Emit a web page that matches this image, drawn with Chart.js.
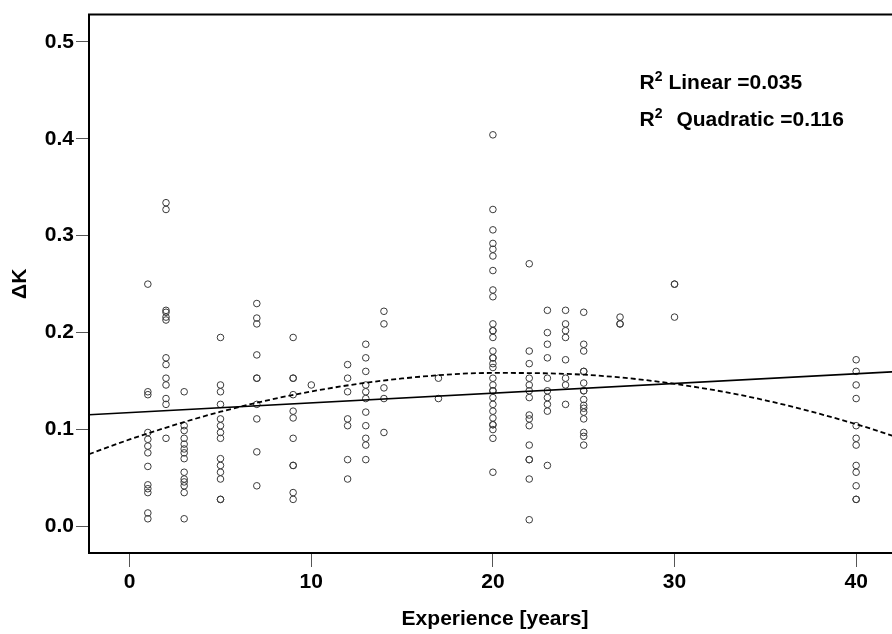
<!DOCTYPE html>
<html>
<head>
<meta charset="utf-8">
<script src="https://cdn.jsdelivr.net/npm/chart.js"></script>
<style>
  html, body { margin: 0; padding: 0; background: #fff; overflow: hidden; }
  #wrap { width: 906px; height: 634px; }
</style>
</head>
<body>
<div id="wrap"><canvas id="chart" width="906" height="634"></canvas></div>
<script>
// experience years that have measurements
const years = [1, 2, 3, 5, 7, 9, 10, 12, 13, 14, 17, 20, 22, 23, 24, 25, 27, 30, 40]

// delta K values for each year (same order as years)
const k01 = [0.250, 0.139, 0.136, 0.097, 0.090, 0.083, 0.076, 0.062, 0.043, 0.039, 0.035, 0.014, 0.008]
const k02 = [0.334, 0.327, 0.223, 0.221, 0.216, 0.213, 0.174, 0.167, 0.153, 0.146, 0.132, 0.126, 0.091]
const k03 = [0.139, 0.104, 0.099, 0.091, 0.085, 0.080, 0.076, 0.070, 0.056, 0.049, 0.046, 0.042, 0.035, 0.008]
const k05 = [0.195, 0.146, 0.139, 0.126, 0.111, 0.104, 0.097, 0.091, 0.070, 0.063, 0.056, 0.049, 0.028, 0.028]
const k07 = [0.230, 0.215, 0.209, 0.177, 0.153, 0.153, 0.126, 0.111, 0.077, 0.042]
const k09 = [0.195, 0.153, 0.153, 0.136, 0.119, 0.112, 0.091, 0.063, 0.063, 0.035, 0.028]
const k10 = [0.146]
const k12 = [0.167, 0.153, 0.139, 0.111, 0.104, 0.069, 0.049]
const k13 = [0.188, 0.174, 0.160, 0.146, 0.139, 0.132, 0.118, 0.104, 0.091, 0.084, 0.069]
const k14 = [0.222, 0.209, 0.143, 0.132, 0.097]
const k17 = [0.153, 0.132]
const k20 = [0.404, 0.327, 0.306, 0.292, 0.286, 0.279, 0.264, 0.244, 0.237, 0.209, 0.202, 0.202, 0.195, 0.181, 0.174, 0.174,
             0.168, 0.164, 0.153, 0.146, 0.140, 0.140, 0.133, 0.126, 0.119, 0.112, 0.105, 0.105, 0.100, 0.091, 0.056]
const k22 = [0.271, 0.181, 0.168, 0.153, 0.146, 0.140, 0.133, 0.115, 0.111, 0.104, 0.084, 0.069, 0.069, 0.049, 0.007]
const k23 = [0.223, 0.200, 0.188, 0.174, 0.153, 0.140, 0.133, 0.126, 0.119, 0.063]
const k24 = [0.223, 0.209, 0.202, 0.195, 0.172, 0.153, 0.146, 0.126]
const k25 = [0.221, 0.188, 0.181, 0.160, 0.160, 0.148, 0.140, 0.140, 0.131, 0.125, 0.122, 0.118, 0.111, 0.097, 0.093, 0.084]
const k27 = [0.216, 0.209, 0.209]
const k30 = [0.250, 0.250, 0.216]
const k40 = [0.172, 0.160, 0.146, 0.132, 0.104, 0.091, 0.084, 0.063, 0.056, 0.042, 0.028, 0.028]
const groups = [k01, k02, k03, k05, k07, k09, k10, k12, k13, k14, k17, k20, k22, k23, k24, k25, k27, k30, k40]

// fit lines
const linX = [-2.24, 42.47]
const linY = [0.1153, 0.1600]
const quadX = [-2.24, 0, 5, 10, 15, 20, 25, 30, 35, 40, 42.47]
const quadY = [0.0746, 0.0898, 0.1184, 0.1393, 0.1527, 0.1584, 0.1566, 0.1472, 0.1302, 0.1056, 0.0907]

const xTicks = [0, 10, 20, 30, 40]
const yTicks = [0, 0.1, 0.2, 0.3, 0.4, 0.5]

const r2Lines = ['Linear =0.035', 'Quadratic =0.116']

let points = []
years.forEach(function (yr, i) {
    groups[i].forEach(function (k) { points.push({ x: yr, y: k }) })
})
const linPts = linX.map(function (v, i) { return { x: v, y: linY[i] } })
const quadPts = quadX.map(function (v, i) { return { x: v, y: quadY[i] } })

const FONT = 'Liberation Sans, Arial, sans-serif'

// top edge of the frame
const framePlugin = {
    id: 'frame',
    afterDraw(chart) {
        const { ctx, chartArea } = chart
        ctx.save()
        ctx.strokeStyle = '#000'
        ctx.lineWidth = 2
        ctx.beginPath()
        ctx.moveTo(chartArea.left - 1, chartArea.top)
        ctx.lineTo(chartArea.right, chartArea.top)
        ctx.stroke()
        ctx.restore()
    }
}

// R squared notes
const r2Plugin = {
    id: 'r2',
    afterDraw(chart) {
        const { ctx, scales } = chart
        const x0 = scales.x.getPixelForValue(28.07)
        const rows = [0.4514, 0.4128]
        const gaps = [6, 14]
        ctx.save()
        ctx.fillStyle = '#000'
        ctx.textBaseline = 'alphabetic'
        rows.forEach(function (v, i) {
            const yb = scales.y.getPixelForValue(v)
            ctx.font = 'bold 21px ' + FONT
            ctx.fillText('R', x0, yb)
            let xx = x0 + ctx.measureText('R').width
            ctx.font = 'bold 14px ' + FONT
            ctx.fillText('2', xx, yb - 8)
            xx += ctx.measureText('2').width + gaps[i]
            ctx.font = 'bold 21px ' + FONT
            ctx.fillText(r2Lines[i], xx, yb)
        })
        ctx.restore()
    }
}

let canvs = document.getElementById('chart').getContext('2d')
let chart = new Chart(canvs, {
    type: 'scatter',
    data: {
        datasets: [
            {
                label: 'Linear',
                data: linPts,
                showLine: true,
                borderColor: '#000',
                borderWidth: 1.6,
                pointRadius: 0,
                order: 1
            },
            {
                label: 'Quadratic',
                data: quadPts,
                showLine: true,
                borderColor: '#000',
                borderWidth: 1.8,
                borderDash: [5, 3],
                pointRadius: 0,
                cubicInterpolationMode: 'monotone',
                order: 1
            },
            {
                label: 'ΔK',
                data: points,
                pointRadius: 3.3,
                pointBorderWidth: 1,
                borderColor: '#3a3a3a',
                backgroundColor: 'rgba(0,0,0,0)',
                order: 2
            }
        ]
    },
    options: {
        responsive: false,
        animation: false,
        devicePixelRatio: 1,
        layout: { padding: { top: 12, right: 0, left: 0, bottom: 0 } },
        plugins: { legend: { display: false }, tooltip: { enabled: false } },
        scales: {
            x: {
                type: 'linear',
                min: -2.24,
                max: 42.47,
                afterBuildTicks: function (s) { s.ticks = xTicks.map(function (v) { return { value: v } }) },
                afterFit: function (s) { s.height = 81 },
                ticks: {
                    color: '#000',
                    font: { family: FONT, size: 21, weight: 'bold' },
                    padding: 3,
                    maxRotation: 0,
                    autoSkip: false
                },
                grid: { drawOnChartArea: false, drawTicks: true, tickLength: 14, color: '#555', lineWidth: 1 },
                border: { color: '#000', width: 2 },
                title: {
                    display: true,
                    text: 'Experience [years]',
                    color: '#000',
                    font: { family: FONT, size: 21, weight: 'bold' },
                    padding: { top: 0, bottom: 2 }
                }
            },
            y: {
                type: 'linear',
                min: -0.0273,
                max: 0.528,
                afterBuildTicks: function (s) { s.ticks = yTicks.map(function (v) { return { value: v } }) },
                afterFit: function (s) { s.width = 89 },
                ticks: {
                    color: '#000',
                    font: { family: FONT, size: 21, weight: 'bold' },
                    padding: 2,
                    callback: function (v) { return v.toFixed(1) }
                },
                grid: { drawOnChartArea: false, drawTicks: true, tickLength: 13, color: '#555', lineWidth: 1 },
                border: { color: '#000', width: 2 },
                title: {
                    display: true,
                    text: 'ΔK',
                    color: '#000',
                    font: { family: FONT, size: 21, weight: 'bold' },
                    padding: { top: 8, bottom: 0 }
                }
            }
        }
    },
    plugins: [framePlugin, r2Plugin]
})
</script>
</body>
</html>
